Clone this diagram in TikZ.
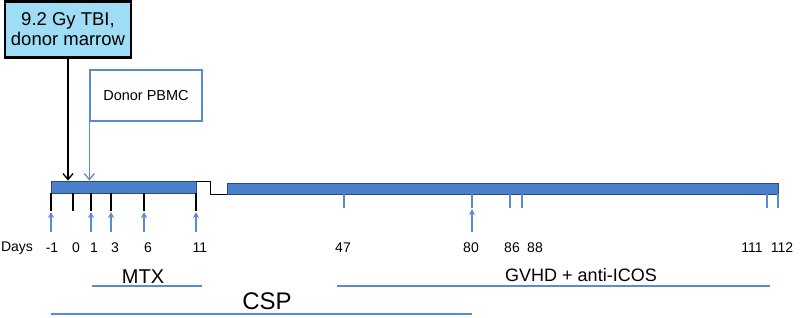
\documentclass[tikz,border=0pt]{standalone}
\usepackage{fontspec}
\setmainfont{Liberation Sans}
\usepackage{xcolor}
\usepackage{tikz}
\usetikzlibrary{arrows.meta,positioning}

\definecolor{barblue}{HTML}{4A7FC9}
\definecolor{lineblue}{HTML}{5A8AD0}
\definecolor{boxcyan}{HTML}{9EDDF5}
\definecolor{bardark}{HTML}{2A4A7A}

\tikzset{
    daylabel/.style={font=\fontsize{14}{14}\selectfont, inner sep=0pt},
    timebar/.style={draw=bardark, line width=0.9pt, fill=barblue, inner sep=0pt},
    uparrow/.style={lineblue, line width=1.3pt, -{Stealth[length=6pt,width=6pt]}},
    drugline/.style={lineblue, line width=2pt},
}

\begin{document}
\begin{tikzpicture}[x=1pt,y=-1pt]
    \useasboundingbox (0,0) rectangle (800,317);
    % boxes on top
    \node[draw=black, line width=2.4pt, fill=boxcyan, minimum width=126, minimum height=56, align=center, font=\fontsize{18.5}{20}\selectfont] (tbi) at (68,29.5) {9.2 Gy TBI,\\donor marrow};
    \node[draw=lineblue, line width=1.3pt, fill=white, minimum width=112, minimum height=51, font=\fontsize{14.5}{14.5}\selectfont] (pbmc) at (146,95.5) {Donor PBMC};
    % time bars
    \node[timebar, minimum width=145, minimum height=12] (barA) at (123.5,187) {};
    \node[timebar, minimum width=551, minimum height=11] (barB) at (502.5,188.5) {};
    \draw[line width=1.6pt] ([yshift=-1pt]barA.north east) -- ++(14,0) |- (barB.south west);
    % arrows to the bar
    \draw[line width=1.3pt, -{Straight Barb[length=6pt,width=10pt]}] (tbi.south) -- (tbi.south |- barA.north);
    \draw[lineblue, line width=1.3pt, -{Straight Barb[length=6pt,width=10pt]}] (pbmc.south west) -- (pbmc.south west |- barA.north);
    % days on first bar
    \foreach \x in {51,73,91,111,144,196}
        \draw[line width=1.4pt] (\x,193) -- (\x,211);
    \foreach \x in {51,91,111,144,196}
        \draw[uparrow] (\x,232) -- (\x,212);
    \node[daylabel] (days) at (17,248) {Days};
    \foreach \x/\d in {52/-1,76/0,94/1,115/3,148/6,200/11}
        \node[daylabel] (day\d) at (\x,248) {\d};
    % days on second bar
    \foreach \x in {344,472,510,522,767,778}
        \draw[lineblue, line width=1.2pt] (\x,194) -- (\x,208);
    \draw[uparrow] (472,232) -- (472,209);
    \foreach \x/\d in {343/47,471/80,512/86,535/88,752/111,782/112}
        \node[daylabel] (day\d) at (\x,248) {\d};
    % treatments
    \node[font=\fontsize{20}{20}\selectfont] (mtx) at (143,277) {MTX};
    \draw[drugline] (92,286) -- (202,286);
    \node[font=\fontsize{18}{18}\selectfont] (gvhd) at (581,275) {GVHD + anti-ICOS};
    \draw[drugline] (337,286) -- (770,286);
    \node[font=\fontsize{24}{24}\selectfont] (csp) at (267,301) {CSP};
    \draw[drugline] (51,314) -- (472,314);
\end{tikzpicture}
\end{document}
